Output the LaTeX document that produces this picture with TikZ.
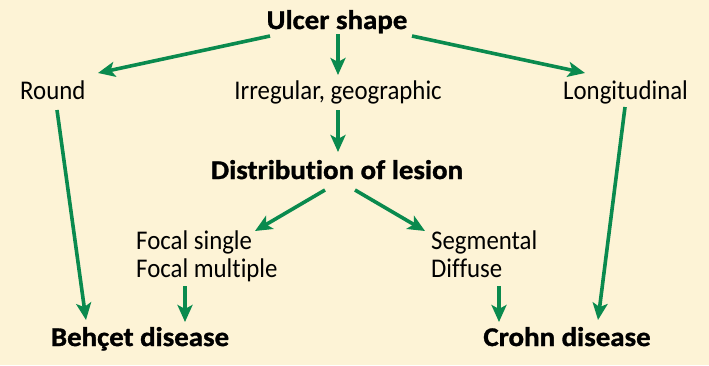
\documentclass[tikz,border=0pt]{standalone}
\usepackage{fontspec}
\setmainfont[FakeStretch=0.92,Ligatures=NoCommon,BoldFeatures={FakeStretch=1.07,FakeBold=1.2}]{Carlito}
\usetikzlibrary{arrows.meta}
\definecolor{bg}{HTML}{FDF3D6}
\definecolor{grn}{HTML}{0A8A4E}
\begin{document}
\begin{tikzpicture}[x=1pt,y=-1pt,
  lbl/.style={inner sep=0pt,font=\fontsize{27}{30}\selectfont},
  hdr/.style={inner sep=0pt,font=\fontsize{27}{30}\selectfont\bfseries},
  arr/.style={draw=grn,line width=3.6pt,-{Stealth[length=17pt,width=15pt,inset=4pt]}}]
\fill[bg] (0,0) rectangle (709,365);
\useasboundingbox (0,0) rectangle (709,365);
\node[hdr,anchor=base] (ulcer) at (337,29) {Ulcer shape};
\node[lbl,anchor=base west] (round) at (20,99) {Round};
\node[lbl,anchor=base] (irr) at (338,99) {Irregular, geographic};
\node[lbl,anchor=base west] (longi) at (563,99) {Longitudinal};
\node[hdr,anchor=base] (dist) at (337,179) {Distribution of lesion};
\node[lbl,anchor=base west] (focA) at (136,249) {Focal single};
\node[lbl,anchor=base west] (focB) at (136,277) {Focal multiple};
\node[lbl,anchor=base west] (segA) at (431,249) {Segmental};
\node[lbl,anchor=base west] (segB) at (431,277) {Diffuse};
\node[hdr,anchor=base] (behcet) at (140,346) {Behçet disease};
\node[hdr,anchor=base] (crohn) at (567,346) {Crohn disease};
\draw[arr] ([shift={(-67,7)}]ulcer.base) -- ([shift={(78,-26)}]round.base west);
\draw[arr] ([shift={(1,5)}]ulcer.base) -- ([shift={(0,-24)}]irr.base);
\draw[arr] ([shift={(75,7)}]ulcer.base) -- ([shift={(22,-26)}]longi.base west);
\draw[arr] ([shift={(37,11)}]round.base west) -- ([shift={(-54,-26)}]behcet.base);
\draw[arr] ([shift={(0,11)}]irr.base) -- ([shift={(1,-27)}]dist.base);
\draw[arr] ([shift={(62,8)}]longi.base west) -- ([shift={(31,-26)}]crohn.base);
\draw[arr] ([shift={(-12,11)}]dist.base) -- ([shift={(119,-18)}]focA.base west);
\draw[arr] ([shift={(18,11)}]dist.base) -- ([shift={(-6,-18)}]segA.base west);
\draw[arr] ([shift={(49,9)}]focB.base west) -- ([shift={(45,-24)}]behcet.base);
\draw[arr] ([shift={(68,9)}]segB.base west) -- ([shift={(-68,-24)}]crohn.base);
\end{tikzpicture}
\end{document}
